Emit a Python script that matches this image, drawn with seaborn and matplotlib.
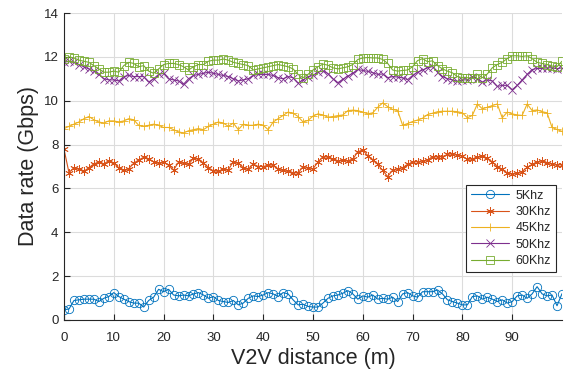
import numpy as np
import pandas as pd
import matplotlib
matplotlib.use("Agg")
import matplotlib.pyplot as plt
import seaborn as sns

distance = list(range(0, 101))

rate_5k = [0.47, 0.5, 0.89, 0.92, 0.95, 0.95, 0.95, 0.84, 0.99, 1.07,
           1.25, 1.07, 0.95, 0.84, 0.77, 0.77, 0.59, 0.89, 1.04, 1.40,
           1.29, 1.40, 1.14, 1.10, 1.14, 1.10, 1.19, 1.25, 1.14, 0.99,
           1.07, 0.89, 0.84, 0.80, 0.89, 0.69, 0.77, 0.99, 1.10, 1.07,
           1.14, 1.25, 1.19, 1.07, 1.25, 1.19, 0.92, 0.69, 0.72, 0.62,
           0.59, 0.59, 0.77, 0.99, 1.10, 1.14, 1.22, 1.34, 1.19, 0.95,
           1.10, 1.04, 1.14, 0.95, 0.99, 0.95, 1.04, 0.84, 1.19, 1.25,
           1.10, 1.04, 1.29, 1.29, 1.29, 1.37, 1.19, 0.92, 0.84, 0.77,
           0.69, 0.69, 1.07, 1.10, 0.95, 1.04, 0.95, 0.84, 0.92, 0.77,
           0.84, 1.10, 1.14, 0.99, 1.19, 1.52, 1.19, 1.10, 1.14, 0.65,
           1.20]

rate_30k = [7.79, 6.72, 6.95, 6.88, 6.78, 6.95, 7.12, 7.2, 7.12, 7.27,
            7.15, 6.95, 6.82, 6.9, 7.15, 7.3, 7.42, 7.35, 7.22, 7.15,
            7.2, 7.05, 6.84, 7.2, 7.15, 7.1, 7.38, 7.35, 7.15, 6.95,
            6.8, 6.78, 6.87, 6.85, 7.22, 7.15, 6.95, 6.87, 7.12, 7.0,
            7.0, 7.05, 7.07, 6.87, 6.82, 6.78, 6.72, 6.7, 7.0, 6.95,
            6.9, 7.2, 7.45, 7.42, 7.32, 7.27, 7.28, 7.27, 7.33, 7.68,
            7.74, 7.5, 7.3, 7.1, 6.82, 6.54, 6.84, 6.9, 6.95, 7.1,
            7.2, 7.22, 7.25, 7.3, 7.45, 7.43, 7.45, 7.55, 7.58, 7.53,
            7.48, 7.32, 7.35, 7.42, 7.48, 7.38, 7.2, 7.0, 6.87, 6.7,
            6.67, 6.7, 6.77, 6.96, 7.1, 7.2, 7.27, 7.18, 7.13, 7.08,
            7.07]

rate_45k = [8.73, 8.83, 8.93, 9.03, 9.18, 9.28, 9.13, 9.03, 8.98, 9.08,
            9.08, 9.03, 9.08, 9.18, 9.13, 8.88, 8.83, 8.88, 8.93, 8.88,
            8.78, 8.78, 8.68, 8.58, 8.53, 8.63, 8.68, 8.73, 8.68, 8.83,
            8.93, 9.03, 8.98, 8.83, 8.98, 8.68, 8.93, 8.88, 8.88, 8.93,
            8.88, 8.68, 9.03, 9.18, 9.33, 9.48, 9.43, 9.28, 9.03, 9.1,
            9.3, 9.4, 9.35, 9.25, 9.28, 9.32, 9.35, 9.55, 9.57, 9.55,
            9.48, 9.4, 9.45, 9.7, 9.9, 9.73, 9.6, 9.55, 8.88, 8.96,
            9.05, 9.12, 9.2, 9.37, 9.43, 9.5, 9.52, 9.52, 9.52, 9.5,
            9.45, 9.22, 9.33, 9.85, 9.63, 9.7, 9.78, 9.85, 9.22, 9.48,
            9.4, 9.35, 9.33, 9.85, 9.55, 9.58, 9.5, 9.45, 8.78, 8.69,
            8.6]

rate_50k = [11.75, 11.8, 11.75, 11.65, 11.55, 11.45, 11.35, 11.2, 11.0, 10.95,
            10.95, 10.9, 11.1, 11.15, 11.1, 11.1, 11.1, 10.85, 11.0, 11.2,
            11.25, 11.0, 10.95, 10.9, 10.75, 11.0, 11.15, 11.2, 11.25, 11.3,
            11.25, 11.2, 11.15, 11.1, 11.0, 10.9, 10.95, 11.0, 11.15, 11.2,
            11.2, 11.2, 11.15, 11.05, 11.0, 11.1, 11.05, 10.8, 10.95, 11.1,
            11.15, 11.3, 11.36, 11.24, 11.0, 10.82, 10.98, 11.12, 11.25, 11.43,
            11.38, 11.34, 11.28, 11.2, 11.22, 11.05, 11.1, 11.08, 11.04, 10.96,
            11.15, 11.3, 11.4, 11.5, 11.56, 11.3, 11.1, 11.0, 10.95, 10.88,
            10.95, 10.95, 11.1, 11.0, 10.85, 10.95, 10.9, 10.65, 10.7, 10.7,
            10.5, 10.7, 10.95, 11.2, 11.42, 11.47, 11.47, 11.5, 11.5, 11.46,
            11.5]

rate_60k = [11.9, 12.0, 11.95, 11.85, 11.8, 11.75, 11.6, 11.45, 11.3, 11.3,
            11.35, 11.3, 11.6, 11.75, 11.7, 11.55, 11.6, 11.35, 11.25, 11.45,
            11.65, 11.7, 11.7, 11.65, 11.55, 11.4, 11.55, 11.65, 11.65, 11.8,
            11.85, 11.85, 11.9, 11.85, 11.75, 11.7, 11.65, 11.6, 11.4, 11.45,
            11.5, 11.55, 11.6, 11.65, 11.6, 11.55, 11.45, 11.2, 11.05, 11.2,
            11.4, 11.55, 11.67, 11.62, 11.5, 11.45, 11.5, 11.55, 11.65, 11.88,
            11.95, 11.97, 11.95, 11.95, 11.88, 11.7, 11.4, 11.35, 11.38, 11.4,
            11.55, 11.83, 11.92, 11.78, 11.82, 11.6, 11.45, 11.35, 11.27, 11.1,
            11.05, 11.05, 11.02, 11.2, 11.05, 11.22, 11.5, 11.65, 11.75, 11.92,
            12.05, 12.05, 12.02, 12.05, 11.92, 11.75, 11.7, 11.65, 11.58, 11.55,
            11.8]

series_names = ["5Khz", "30Khz", "45Khz", "50Khz", "60Khz"]
series_values = [rate_5k, rate_30k, rate_45k, rate_50k, rate_60k]
colors = ["#0072BD", "#D95319", "#EDB120", "#7E2F8E", "#77AC30"]
markers = ["o", (6, 2, 0), "+", "x", "s"]

x_ticks = [0, 10, 20, 30, 40, 50, 60, 70, 80, 90]
y_ticks = [0, 2, 4, 6, 8, 10, 12, 14]

sns.set_style("ticks")
plt.rcParams["font.family"] = ["Liberation Sans", "DejaVu Sans"]

axc = "#262626"
fig = plt.figure(figsize=(5.66, 3.74), dpi=100)
ax = fig.add_axes([64 / 566, 1 - 320 / 374, 498 / 566, 307 / 374])

for name, vals, c, m in zip(series_names, series_values, colors, markers):
    df = pd.DataFrame({"x": distance, "y": vals})
    sns.lineplot(data=df, x="x", y="y", ax=ax, color=c, marker=m,
                 markersize=6, markerfacecolor="none", markeredgecolor=c,
                 markeredgewidth=0.6, linewidth=0.8, label=name)

ax.set_xlim(0, 100)
ax.set_ylim(0, 14)
ax.set_xticks(x_ticks)
ax.set_yticks(y_ticks)
ax.grid(True, color="#dcdcdc", linewidth=0.8)
ax.set_axisbelow(True)
for s in ["top", "right"]:
    ax.spines[s].set_visible(False)
for s in ["left", "bottom"]:
    ax.spines[s].set_color(axc)
    ax.spines[s].set_linewidth(0.8)
ax.tick_params(direction="in", length=4, width=0.8, colors=axc,
               labelsize=9.5, labelcolor=axc)
ax.tick_params(axis="x", pad=8.5)
ax.tick_params(axis="y", pad=4)
ax.set_xlabel("V2V distance (m)", fontsize=15.5, color=axc, labelpad=3)
ax.set_ylabel("Data rate (Gbps)", fontsize=15.5, color=axc, labelpad=3)

leg = ax.legend(loc="lower right", bbox_to_anchor=(0.988, 0.156),
                frameon=True, fancybox=False, framealpha=1,
                edgecolor=axc, fontsize=9, handlelength=3.1,
                borderpad=0.4, labelspacing=0.35, handletextpad=0.5,
                borderaxespad=0)
leg.get_frame().set_linewidth(0.8)

fig.savefig("out.png", dpi=100)
